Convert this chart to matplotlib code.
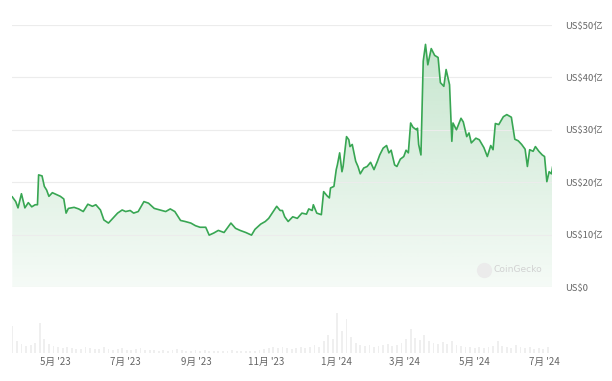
import matplotlib
matplotlib.use('Agg')
import numpy as np
import pandas as pd
import matplotlib.pyplot as plt
import matplotlib.dates as mdates

plt.rcParams['font.family'] = ['Noto Sans CJK SC', 'DejaVu Sans']

# market cap, US$ 亿
dates = ['2023-03-24', '2023-03-27', '2023-03-29', '2023-04-01', '2023-04-04', '2023-04-07',
         '2023-04-10', '2023-04-13', '2023-04-15', '2023-04-16', '2023-04-19', '2023-04-21',
         '2023-04-23', '2023-04-25', '2023-04-28', '2023-05-02', '2023-05-05', '2023-05-08',
         '2023-05-10', '2023-05-12', '2023-05-17', '2023-05-21', '2023-05-25', '2023-05-29',
         '2023-06-02', '2023-06-05', '2023-06-09', '2023-06-12', '2023-06-16', '2023-06-21',
         '2023-06-24', '2023-06-28', '2023-07-01', '2023-07-05', '2023-07-08', '2023-07-12',
         '2023-07-17', '2023-07-21', '2023-07-26', '2023-07-31', '2023-08-05', '2023-08-09',
         '2023-08-13', '2023-08-18', '2023-08-22', '2023-08-27', '2023-08-31', '2023-09-04',
         '2023-09-09', '2023-09-12', '2023-09-16', '2023-09-20', '2023-09-25', '2023-10-01',
         '2023-10-05', '2023-10-09', '2023-10-14', '2023-10-19', '2023-10-22', '2023-10-27',
         '2023-10-31', '2023-11-03', '2023-11-07', '2023-11-10', '2023-11-13', '2023-11-15',
         '2023-11-17', '2023-11-20', '2023-11-24', '2023-11-28', '2023-12-02', '2023-12-06',
         '2023-12-08', '2023-12-11', '2023-12-12', '2023-12-15', '2023-12-19', '2023-12-21',
         '2023-12-24', '2023-12-26', '2023-12-27', '2023-12-30', '2024-01-01', '2024-01-02',
         '2024-01-04', '2024-01-06', '2024-01-07', '2024-01-10', '2024-01-12', '2024-01-13',
         '2024-01-15', '2024-01-18', '2024-01-20', '2024-01-22', '2024-01-25', '2024-01-28',
         '2024-01-31', '2024-02-03', '2024-02-06', '2024-02-08', '2024-02-11', '2024-02-14',
         '2024-02-16', '2024-02-18', '2024-02-21', '2024-02-23', '2024-02-26', '2024-02-29',
         '2024-03-02', '2024-03-04', '2024-03-06', '2024-03-08', '2024-03-11', '2024-03-12',
         '2024-03-13', '2024-03-15', '2024-03-17', '2024-03-19', '2024-03-21', '2024-03-24',
         '2024-03-27', '2024-03-30', '2024-04-01', '2024-04-04', '2024-04-06', '2024-04-09',
         '2024-04-11', '2024-04-12', '2024-04-15', '2024-04-19', '2024-04-21', '2024-04-24',
         '2024-04-26', '2024-04-28', '2024-05-02', '2024-05-05', '2024-05-09', '2024-05-12',
         '2024-05-15', '2024-05-17', '2024-05-19', '2024-05-22', '2024-05-26', '2024-05-29',
         '2024-06-02', '2024-06-05', '2024-06-08', '2024-06-11', '2024-06-14', '2024-06-16',
         '2024-06-18', '2024-06-21', '2024-06-23', '2024-06-26', '2024-06-29', '2024-07-01',
         '2024-07-03', '2024-07-05', '2024-07-07', '2024-07-08']
mcap = [17.2, 16.3, 15.1, 17.8, 15.1, 16.1,
        15.3, 15.7, 15.7, 21.4, 21.2, 19.2,
        18.5, 17.3, 18.0, 17.6, 17.3, 16.8,
        14.1, 15.0, 15.2, 14.9, 14.4, 15.8,
        15.4, 15.7, 14.7, 12.8, 12.2, 13.4,
        14.1, 14.7, 14.4, 14.6, 14.1, 14.4,
        16.3, 16.0, 15.0, 14.7, 14.4, 14.9,
        14.4, 12.7, 12.5, 12.2, 11.7, 11.4,
        11.4, 9.9, 10.3, 10.8, 10.4, 12.2,
        11.2, 10.8, 10.4, 9.9, 11.0, 12.0,
        12.5, 13.1, 14.4, 15.4, 14.6, 14.6,
        13.4, 12.5, 13.4, 13.1, 14.1, 13.9,
        14.9, 14.6, 15.7, 14.1, 13.8, 18.2,
        17.4, 17.0, 18.9, 19.2, 22.4, 23.3,
        25.6, 22.0, 23.0, 28.7, 28.1, 26.8,
        27.2, 24.0, 23.0, 21.6, 22.7, 23.0,
        23.8, 22.4, 24.0, 25.2, 26.5, 27.0,
        25.6, 26.1, 23.3, 23.0, 24.4, 24.9,
        26.1, 25.6, 31.3, 30.5, 30.0, 30.3,
        27.2, 25.2, 43.1, 46.3, 42.4, 45.5,
        44.2, 43.8, 39.0, 38.3, 41.5, 38.6,
        27.8, 31.3, 30.0, 32.2, 31.5, 28.7,
        29.4, 27.5, 28.4, 28.1, 26.6, 24.9,
        27.0, 26.2, 31.2, 31.0, 32.5, 32.9,
        32.4, 28.2, 27.9, 27.2, 26.3, 23.0,
        26.2, 25.9, 26.8, 25.9, 25.2, 24.9,
        20.1, 22.0, 21.6, 22.9]

# trading volume, every 4 days from 2023-03-24 (relative heights)
vol_start = '2023-03-24'
volume = [27, 12, 9, 7, 8, 10, 30, 14, 9, 7, 6, 5, 6, 5, 4, 4, 6, 5, 4, 4,
          6, 4, 3, 4, 5, 3, 3, 4, 5, 3, 3, 3, 2, 3, 2, 3, 4, 3, 2, 2,
          3, 2, 3, 2, 2, 2, 2, 2, 3, 2, 2, 2, 2, 2, 3, 4, 5, 6, 5, 6,
          5, 4, 5, 6, 5, 6, 8, 6, 12, 18, 14, 40, 22, 34, 16, 10, 8, 7, 8, 6,
          7, 8, 9, 7, 8, 10, 14, 24, 15, 13, 18, 12, 10, 9, 11, 9, 12, 8, 7, 6,
          6, 5, 6, 5, 6, 7, 12, 7, 6, 5, 8, 6, 5, 6, 4, 5, 4, 6, 5]

yticks = [0, 10, 20, 30, 40, 50]
ytick_labels = ['US$0', 'US$10亿', 'US$20亿', 'US$30亿', 'US$40亿', 'US$50亿']
xtick_dates = ['2023-05-01', '2023-07-01', '2023-09-01', '2023-11-01',
               '2024-01-01', '2024-03-01', '2024-05-01', '2024-07-01']
xtick_labels = ["5月 '23", "7月 '23", "9月 '23", "11月 '23",
                "1月 '24", "3月 '24", "5月 '24", "7月 '24"]

green = '#38a653'
grey_txt = '#666666'

x = mdates.date2num(pd.to_datetime(dates))
y = np.array(mcap)
xlim = (mdates.date2num(pd.Timestamp('2023-03-23 18:00')),
        mdates.date2num(pd.Timestamp('2024-07-07 12:00')))

fig = plt.figure(figsize=(6.12, 3.81), dpi=100)
ax = fig.add_axes([12/612, 1 - 287/381, 540/612, 262/381])

# gradient fill under the line
grad = np.zeros((256, 1, 4))
grad[:, 0, :3] = matplotlib.colors.to_rgb(green)
grad[:, 0, 3] = np.linspace(0.30, 0.05, 256)
img = ax.imshow(grad, aspect='auto', extent=[xlim[0], xlim[1], 0, 50],
                origin='upper', zorder=1)
poly = ax.fill_between(x, y, 0, color='none', lw=0)
img.set_clip_path(poly.get_paths()[0], transform=ax.transData)

ax.plot(x, y, color=green, lw=1.2, zorder=3, solid_joinstyle='round')

ax.set_xlim(xlim)
ax.set_ylim(0, 50)
ax.set_yticks(yticks)
ax.set_yticklabels(ytick_labels)
ax.yaxis.tick_right()
ax.tick_params(axis='y', length=0, pad=9.4, labelsize=6.8, labelcolor=grey_txt)
ax.set_xticks([])
ax.grid(axis='y', color='#ececec', lw=0.8, zorder=0)
for s in ax.spines.values():
    s.set_visible(False)

# watermark
ax.plot([0.874], [0.066], 'o', ms=11, color='#ebebeb', mec='none',
        transform=ax.transAxes, zorder=2)
ax.text(0.892, 0.066, 'CoinGecko', transform=ax.transAxes, fontsize=6.6,
        color='#d2d2d2', va='center', ha='left', family='DejaVu Sans', zorder=2)

# volume panel
axv = fig.add_axes([12/612, 1 - 352.7/381, 540/612, 52.7/381])
vx = mdates.date2num(pd.date_range(vol_start, periods=len(volume), freq='4D'))
axv.bar(vx, volume, width=1.6, color='#efefef', lw=0)
axv.set_xlim(xlim)
axv.set_ylim(0, 52.7)
axv.set_yticks([])
axv.set_xticks(mdates.date2num(pd.to_datetime(xtick_dates)))
axv.set_xticklabels(xtick_labels)
axv.tick_params(axis='x', length=0, pad=3, labelsize=7, labelcolor=grey_txt)
for s in axv.spines.values():
    s.set_visible(False)
axv.patch.set_alpha(0)

fig.savefig('out.png', dpi=100)
